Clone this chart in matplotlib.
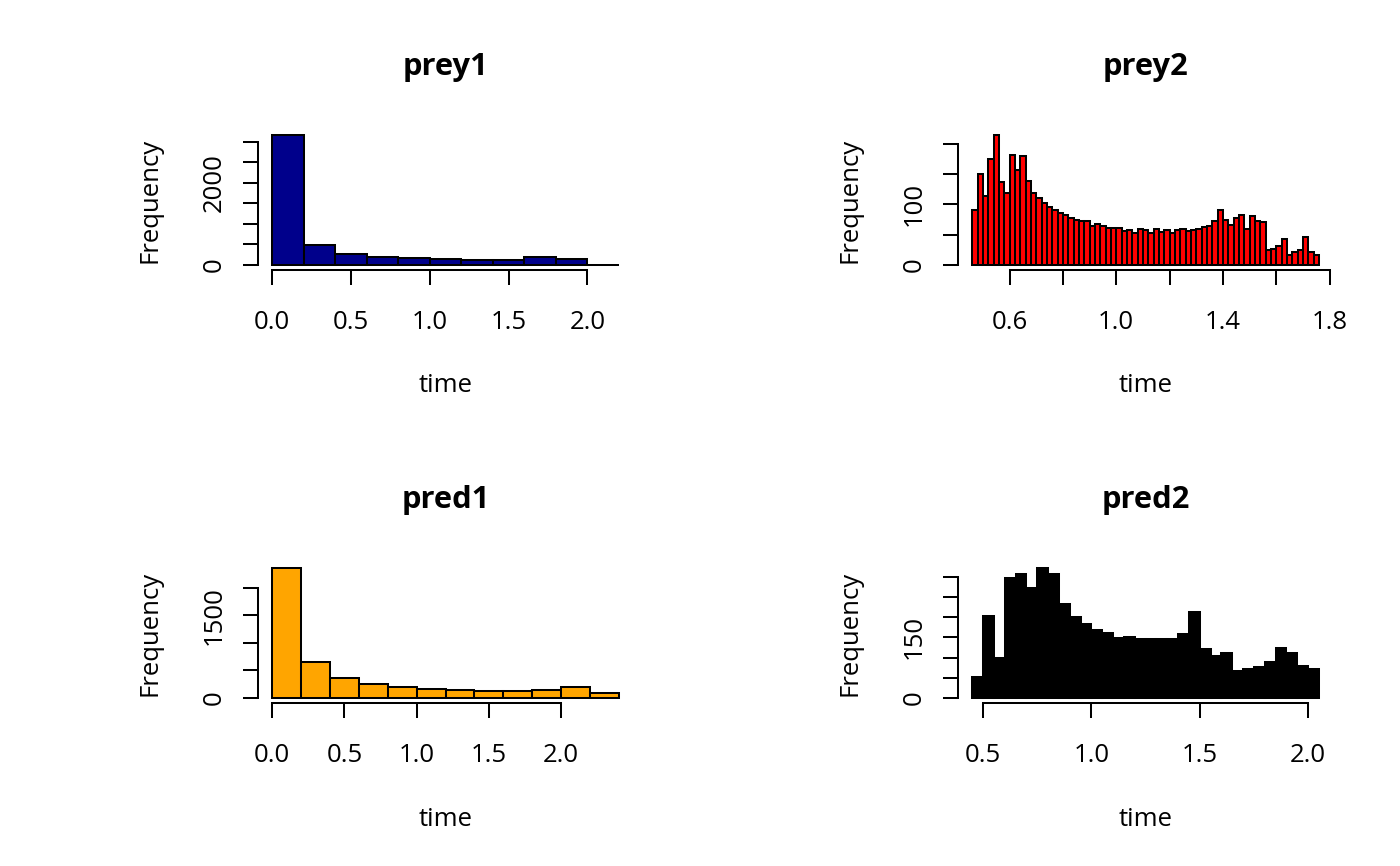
import numpy as np
import matplotlib
matplotlib.use("Agg")
import matplotlib.pyplot as plt

plt.rcParams['font.family'] = ['Open Sans', 'DejaVu Sans']

# ---------------- data ----------------
prey1_breaks = [0.0, 0.2, 0.4, 0.6, 0.8, 1.0, 1.2, 1.4, 1.6, 1.8, 2.0, 2.2]
prey1_counts = [3156, 494, 275, 202, 162, 138, 122, 122, 187, 146, 8]

prey2_breaks = np.round(np.linspace(0.46, 1.76, 66), 2)
prey2_counts = [90, 150, 114, 175, 214, 137, 118, 182, 156, 180,
                138, 119, 111, 103, 95, 90, 85, 82, 77, 74,
                72, 72, 65, 67, 65, 61, 61, 61, 56, 57,
                53, 59, 57, 52, 59, 54, 57, 53, 57, 60,
                56, 58, 60, 63, 65, 72, 91, 75, 66, 78,
                83, 60, 81, 72, 71, 24, 26, 31, 43, 17,
                21, 25, 47, 22, 16]

pred1_breaks = [0.0, 0.2, 0.4, 0.6, 0.8, 1.0, 1.2, 1.4, 1.6, 1.8, 2.0, 2.2, 2.4]
pred1_counts = [2354, 646, 366, 256, 201, 171, 146, 128, 128, 152, 207, 98]

pred2_breaks = np.round(np.linspace(0.45, 2.05, 33), 2)
pred2_counts = [53, 202, 98, 297, 306, 273, 321, 308, 232, 200,
                182, 169, 160, 149, 151, 146, 145, 147, 145, 158,
                212, 122, 103, 111, 67, 72, 77, 89, 124, 111,
                78, 72]

prey1_xticks = [0.0, 0.5, 1.0, 1.5, 2.0]
prey1_xlabels = ["0.0", "0.5", "1.0", "1.5", "2.0"]
prey1_yticks = [0, 500, 1000, 1500, 2000, 2500, 3000]
prey1_ylabels = ["0", "", "", "", "2000", "", ""]

prey2_xticks = [0.6, 0.8, 1.0, 1.2, 1.4, 1.6, 1.8]
prey2_xlabels = ["0.6", "", "1.0", "", "1.4", "", "1.8"]
prey2_yticks = [0, 50, 100, 150, 200]
prey2_ylabels = ["0", "", "100", "", ""]

pred1_xticks = [0.0, 0.5, 1.0, 1.5, 2.0]
pred1_xlabels = ["0.0", "0.5", "1.0", "1.5", "2.0"]
pred1_yticks = [0, 500, 1000, 1500, 2000]
pred1_ylabels = ["0", "", "", "1500", ""]

pred2_xticks = [0.5, 1.0, 1.5, 2.0]
pred2_xlabels = ["0.5", "1.0", "1.5", "2.0"]
pred2_yticks = [0, 50, 100, 150, 200, 250, 300]
pred2_ylabels = ["0", "", "", "150", "", "", ""]

titles = ["prey1", "prey2", "pred1", "pred2"]
colors = ["#00008B", "#FF0000", "#FFA500", "#000000"]

# ---------------- layout ----------------
W, H = 1400, 866
fig = plt.figure(figsize=(W / 100, H / 100), dpi=100)

pw, ph = 374.3, 140.1
lefts = [258.4, 958.4]
tops = [130.1, 563.1]

panels = [
    (prey1_breaks, prey1_counts, prey1_xticks, prey1_xlabels, prey1_yticks, prey1_ylabels),
    (prey2_breaks, prey2_counts, prey2_xticks, prey2_xlabels, prey2_yticks, prey2_ylabels),
    (pred1_breaks, pred1_counts, pred1_xticks, pred1_xlabels, pred1_yticks, pred1_ylabels),
    (pred2_breaks, pred2_counts, pred2_xticks, pred2_xlabels, pred2_yticks, pred2_ylabels),
]

FS = 18.5
LW = 1.45
TICKLEN = 10.8

for i, (brk, cnt, xt, xl, yt, yl) in enumerate(panels):
    r, c = divmod(i, 2)
    left = lefts[c]
    top = tops[r]
    ax = fig.add_axes([left / W, 1 - (top + ph) / H, pw / W, ph / H])
    brk = np.asarray(brk, dtype=float)
    cnt = np.asarray(cnt, dtype=float)
    ax.bar(brk[:-1], cnt, width=np.diff(brk), align='edge',
           color=colors[i], edgecolor='black', linewidth=LW)
    xr = brk[-1] - brk[0]
    ax.set_xlim(brk[0] - 0.04 * xr, brk[-1] + 0.04 * xr)
    ymax = cnt.max()
    ax.set_ylim(-0.04 * ymax, 1.04 * ymax)

    for s in ['top', 'right']:
        ax.spines[s].set_visible(False)
    ax.spines['left'].set_bounds(yt[0], yt[-1])
    ax.spines['bottom'].set_bounds(xt[0], xt[-1])
    for s in ['left', 'bottom']:
        ax.spines[s].set_linewidth(LW)

    ax.set_xticks(xt)
    ax.set_xticklabels(xl)
    ax.set_yticks(yt)
    ax.set_yticklabels(yl)
    ax.tick_params(axis='both', direction='out', length=TICKLEN, width=LW,
                   labelsize=FS)
    ax.tick_params(axis='x', pad=17.5)
    ax.tick_params(axis='y', pad=12.2)
    for lab in ax.get_yticklabels():
        lab.set_rotation(90)
        lab.set_va('center')
        lab.set_ha('right')

    ax.set_xlabel('time', fontsize=FS)
    ax.xaxis.set_label_coords(0.5, -(386 - 270.2) / ph)
    ax.xaxis.label.set_va('center')
    ax.set_ylabel('Frequency', fontsize=FS)
    ax.yaxis.set_label_coords(-(258.4 - 150) / pw, 0.5)
    ax.yaxis.label.set_va('center')

    ax.text(0.5, 1 + (130.1 - 67) / ph, titles[i], transform=ax.transAxes,
            ha='center', va='center', fontsize=FS * 1.2, fontweight='bold')

fig.savefig('out.png', dpi=100)
